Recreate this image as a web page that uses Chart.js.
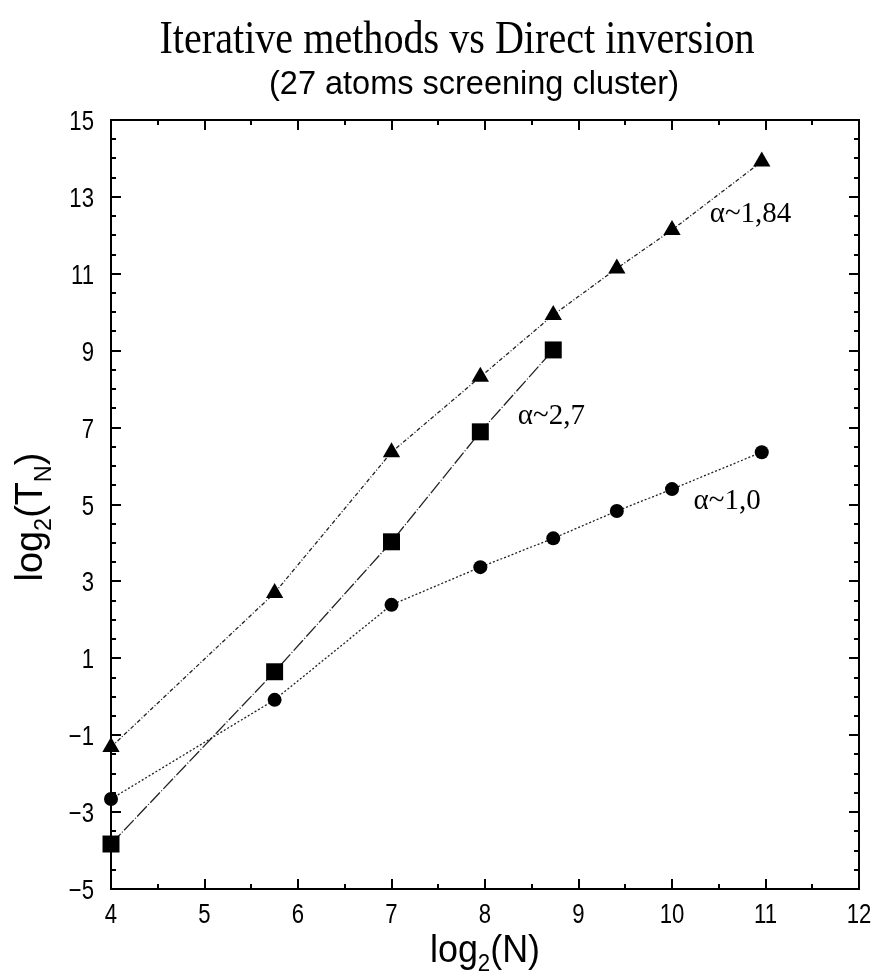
<!DOCTYPE html>
<html>
<head>
<title>Iterative methods vs Direct inversion</title>
<style>
    body {margin: 0; background: #fff;}
    #wrap {width: 875px; height: 975px;}
</style>
<script src="https://cdn.jsdelivr.net/npm/chart.js"></script>
</head>
<body>
<div id="wrap"><canvas id="chart" width="875" height="975"></canvas></div>
<script>
// values (log2 scale on both axes)
var logN       = [4, 5.75, 7, 7.95, 8.73, 9.41, 10, 10.96];
var iterTri    = [-1.31, 2.70, 6.36, 8.32, 9.93, 11.14, 12.14, 13.92];
var logNDirect = [4, 5.75, 7, 7.95, 8.73];
var directSq   = [-3.83, 0.65, 4.03, 6.89, 9.02];
var iterCirc   = [-2.66, -0.08, 2.39, 3.37, 4.12, 4.83, 5.40, 6.36];

var xTicks = [4, 5, 6, 7, 8, 9, 10, 11, 12];
var yTicks = [-5, -3, -1, 1, 3, 5, 7, 9, 11, 13, 15];

var slopeLabels = ['α~1,84', 'α~2,7', 'α~1,0'];
var slopeAtX    = [10.84, 8.71, 10.59];
var slopeAtY    = [12.55, 7.28, 5.07];

var sans = "'Liberation Sans', Arial, sans-serif";
var serif = "'Liberation Serif', 'Times New Roman', serif";

function pts(xs, ys) {
    return xs.map(function(x, i) { return {x: x, y: ys[i]}; });
}

// horizontally squeezed text (the original uses a narrow Helvetica)
function narrowText(ctx, txt, x, y, sx, align) {
    var w = ctx.measureText(txt).width * sx;
    var left = align === 'right' ? x - w : (align === 'center' ? x - w / 2 : x);
    ctx.save();
    ctx.translate(left, y);
    ctx.scale(sx, 1);
    ctx.textAlign = 'left';
    ctx.fillText(txt, 0, 0);
    ctx.restore();
}

// text with subscripts, parts = [[text, isSub], ...], centred on x
function richText(ctx, parts, x, y, size, sx) {
    var w = 0, i;
    for (i = 0; i < parts.length; i++) {
        ctx.font = (parts[i][1] ? size * 0.62 : size) + 'px ' + sans;
        w += ctx.measureText(parts[i][0]).width;
    }
    ctx.save();
    ctx.translate(x, y);
    ctx.scale(sx, 1);
    var cx = -w / 2;
    ctx.textAlign = 'left';
    ctx.textBaseline = 'alphabetic';
    for (i = 0; i < parts.length; i++) {
        var sub = parts[i][1];
        ctx.font = (sub ? size * 0.62 : size) + 'px ' + sans;
        ctx.fillText(parts[i][0], cx, sub ? size * 0.22 : 0);
        cx += ctx.measureText(parts[i][0]).width;
    }
    ctx.restore();
}

function fmt(v) { return v < 0 ? '\u2212' + Math.abs(v) : String(v); }

var framePlugin = {
    id: 'frame',
    beforeDatasetsDraw: function(chart) {
        var ctx = chart.ctx, a = chart.chartArea;
        var xs = chart.scales.x, ys = chart.scales.y;
        ctx.save();
        ctx.strokeStyle = '#000';
        ctx.lineWidth = 2;
        ctx.strokeRect(a.left, a.top, a.right - a.left, a.bottom - a.top);
        ctx.beginPath();
        var v, p, len;
        for (v = 4; v <= 12; v += 0.5) {
            p = Math.round(xs.getPixelForValue(v));
            len = (xTicks.indexOf(v) >= 0) ? 10 : 5;
            ctx.moveTo(p, a.bottom); ctx.lineTo(p, a.bottom - len);
            ctx.moveTo(p, a.top);    ctx.lineTo(p, a.top + len);
        }
        for (v = -5; v <= 15; v += 0.5) {
            p = Math.round(ys.getPixelForValue(v));
            len = (yTicks.indexOf(v) >= 0) ? 10 : 5;
            ctx.moveTo(a.left, p);  ctx.lineTo(a.left + len, p);
            ctx.moveTo(a.right, p); ctx.lineTo(a.right - len, p);
        }
        ctx.stroke();

        // tick labels
        ctx.fillStyle = '#000';
        ctx.font = '27px ' + sans;
        ctx.textBaseline = 'alphabetic';
        xTicks.forEach(function(t) {
            narrowText(ctx, fmt(t), xs.getPixelForValue(t), a.bottom + 34, 0.82, 'center');
        });
        yTicks.forEach(function(t) {
            narrowText(ctx, fmt(t), a.left - 17, ys.getPixelForValue(t) + 10, 0.82, 'right');
        });
        ctx.restore();
    },
    afterDraw: function(chart) {
        var ctx = chart.ctx, a = chart.chartArea;
        var xs = chart.scales.x, ys = chart.scales.y;
        ctx.save();
        ctx.fillStyle = '#000';
        ctx.textBaseline = 'alphabetic';

        // title, serif and condensed
        ctx.font = '47px ' + serif;
        var t = 'Iterative methods vs Direct inversion';
        ctx.save();
        var tw = ctx.measureText(t).width;
        ctx.translate(457 - 595 / 2, 53);
        ctx.scale(595 / tw, 1);
        ctx.fillText(t, 0, 0);
        ctx.restore();

        ctx.font = '34px ' + sans;
        var s = '(27 atoms screening cluster)';
        ctx.save();
        var sw = ctx.measureText(s).width;
        ctx.translate(474 - 410 / 2, 94);
        ctx.scale(410 / sw, 1);
        ctx.fillText(s, 0, 0);
        ctx.restore();

        // axis titles
        richText(ctx, [['log', 0], ['2', 1], ['(N)', 0]], (a.left + a.right) / 2, 962, 39, 0.92);
        ctx.save();
        ctx.translate(42, 517);
        ctx.rotate(-Math.PI / 2);
        richText(ctx, [['log', 0], ['2', 1], ['(T', 0], ['N', 1], [')', 0]], 0, 0, 39, 0.97);
        ctx.restore();

        // slope notes
        ctx.font = '29px ' + serif;
        ctx.textAlign = 'center';
        ctx.textBaseline = 'middle';
        for (var i = 0; i < slopeLabels.length; i++) {
            ctx.fillText(slopeLabels[i], xs.getPixelForValue(slopeAtX[i]), ys.getPixelForValue(slopeAtY[i]));
        }
        ctx.restore();
    }
};

var common = {
    showLine: true,
    borderColor: '#222',
    borderWidth: 1.3,
    backgroundColor: '#000',
    pointBackgroundColor: '#000',
    pointBorderColor: '#000',
    pointBorderWidth: 0,
    clip: false
};

var ctx = document.getElementById('chart').getContext('2d');
var chart = new Chart(ctx, {
    type: 'scatter',
    data: {
        datasets: [
            Object.assign({}, common, {
                label: 'iterative (triangles)',
                data: pts(logN, iterTri),
                pointStyle: 'triangle',
                pointRadius: 10,
                borderDash: [4, 2, 1, 2]
            }),
            Object.assign({}, common, {
                label: 'direct inversion',
                data: pts(logNDirect, directSq),
                pointStyle: 'rect',
                pointRadius: 12,
                borderDash: [14, 2, 1, 2]
            }),
            Object.assign({}, common, {
                label: 'iterative (circles)',
                data: pts(logN, iterCirc),
                pointStyle: 'circle',
                pointRadius: 7,
                borderDash: [2, 2]
            })
        ]
    },
    options: {
        responsive: false,
        animation: false,
        layout: {padding: {top: 120, right: 16, bottom: 0, left: 0}},
        plugins: {
            legend: {display: false},
            tooltip: {enabled: false}
        },
        scales: {
            x: {
                type: 'linear',
                min: 4, max: 12,
                afterBuildTicks: function(s) { s.ticks = xTicks.map(function(v) { return {value: v}; }); },
                afterFit: function(s) { s.height = 86; },
                grid: {display: false, drawTicks: false},
                border: {display: false},
                ticks: {display: false}
            },
            y: {
                type: 'linear',
                min: -5, max: 15,
                afterBuildTicks: function(s) { s.ticks = yTicks.map(function(v) { return {value: v}; }); },
                afterFit: function(s) { s.width = 111; },
                grid: {display: false, drawTicks: false},
                border: {display: false},
                ticks: {display: false}
            }
        }
    },
    plugins: [framePlugin]
});
</script>
</body>
</html>
